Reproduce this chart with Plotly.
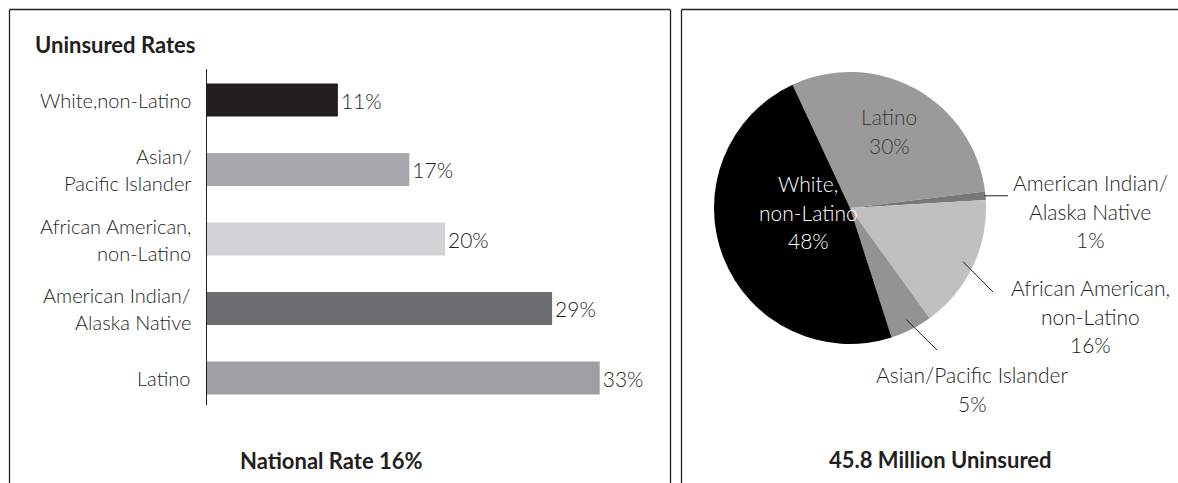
import math
import plotly.graph_objects as go

# ---------------- data ----------------
bar_categories = ["White,non-Latino", "Asian/<br>Pacific Islander", "African American,<br>non-Latino",
                  "American Indian/<br>Alaska Native", "Latino"]
bar_values = [11, 17, 20, 29, 33]
bar_colors = ["#231f20", "#a7a9ac", "#d1d3d4", "#6d6e71", "#9d9fa2"]

pie_labels = ["Latino", "American Indian/Alaska Native", "African American, non-Latino",
              "Asian/Pacific Islander", "White, non-Latino"]
pie_values = [30, 1, 16, 5, 48]
pie_colors = ["#9a9a9a", "#787878", "#c0c0c0", "#939393", "#000000"]
pie_text = [["Latino", "30%"], ["American Indian/", "Alaska Native", "1%"],
            ["African American,", "non-Latino", "16%"], ["Asian/Pacific Islander", "5%"],
            ["White,", "non-Latino", "48%"]]

left_title = "Uninsured Rates"
left_footer = "National Rate 16%"
right_footer = "45.8 Million Uninsured"

# ---------------- layout helpers ----------------
W, H = 1178, 483
FONT = "Lato"
INK = "#231f20"
LIGHT = 300


def px(x):
    return x / W


def py(y):
    return 1 - y / H


fig = go.Figure()

# ---------------- bar chart ----------------
fig.add_trace(go.Bar(
    x=bar_values, y=list(range(len(bar_categories))), orientation="h",
    marker=dict(color=bar_colors, line=dict(width=0)),
    width=0.475,
    text=[f"{v}%" for v in bar_values], textposition="outside",
    textfont=dict(family=FONT, size=21, color=INK, weight=LIGHT),
    cliponaxis=False, hoverinfo="skip", showlegend=False,
    xaxis="x", yaxis="y",
))

x0_px, x1_px = 207, 669
px_per_unit = 11.9
y_top_px, y_bot_px = 69, 405
fig.update_layout(
    xaxis=dict(domain=[px(x0_px), px(x1_px)], range=[0, (x1_px - x0_px) / px_per_unit],
               visible=False, fixedrange=True),
    yaxis=dict(domain=[py(y_bot_px), py(y_top_px)], range=[4.388, -0.446],
               showline=True, linecolor=INK, linewidth=1.3, showgrid=False,
               zeroline=False, showticklabels=False, ticks="", fixedrange=True),
)

annotations = []
LINE_H = 27
for i, lab in enumerate(bar_categories):
    lines = lab.split("<br>")
    n = len(lines)
    for j, ln in enumerate(lines):
        annotations.append(dict(
            x=px(193), xref="paper", y=i, yref="y", text=ln, showarrow=False,
            xanchor="right", yanchor="middle",
            yshift=-(j - (n - 1) / 2) * LINE_H,
            font=dict(family=FONT, size=20, color=INK, weight=LIGHT)))

# ---------------- pie chart ----------------
cx, cy, R = 850, 208, 136
rotation = -25
fig.add_trace(go.Pie(
    labels=pie_labels, values=pie_values, sort=False, direction="clockwise",
    rotation=rotation, marker=dict(colors=pie_colors, line=dict(width=0)),
    textinfo="none", hoverinfo="skip", showlegend=False,
    domain=dict(x=[px(cx - R), px(cx + R)], y=[py(cy + R), py(cy - R)]),
))

total = sum(pie_values)
mid_angles = []
acc = 0
for v in pie_values:
    mid_angles.append(rotation + (acc + v / 2) / total * 360)
    acc += v


def pie_point(angle_deg, r):
    a = math.radians(angle_deg)
    return cx + r * math.sin(a), cy - r * math.cos(a)


# label anchor (center of text block, in pixels) and colour
label_pos = {
    0: (889, 131, "#3d3d3d"),
    1: (1090, 211, INK),
    2: (1090, 316, INK),
    3: (972, 389, INK),
    4: (808, 212, "#ffffff"),
}
PIE_LINE_H = 28.5
for i, (lx, ly, col) in label_pos.items():
    lines = pie_text[i]
    n = len(lines)
    for j, ln in enumerate(lines):
        annotations.append(dict(
            x=px(lx), y=py(ly + (j - (n - 1) / 2) * PIE_LINE_H), xref="paper", yref="paper",
            text=ln, showarrow=False, xanchor="center", yanchor="middle",
            font=dict(family=FONT, size=21, color=col, weight=LIGHT)))

shapes = []
# leader lines: start on slice (from data), end near its label
leader_ends = {1: (1008, None), 2: (993, 292), 3: (937, 350)}
for i, (ex, ey) in leader_ends.items():
    if ey is None:
        sx, sy = pie_point(mid_angles[i], R * 0.99)
        ex_, ey_ = ex, sy
    else:
        sx, sy = pie_point(mid_angles[i], R * 0.92)
        ex_, ey_ = ex, ey
    shapes.append(dict(type="line", xref="paper", yref="paper",
                       x0=px(sx), y0=py(sy), x1=px(ex_), y1=py(ey_),
                       line=dict(color=INK, width=1)))

# ---------------- panel frames ----------------
frame = dict(color=INK, width=1.3)
for (l, r) in [(9.5, 670.5), (681.5, 1190)]:
    shapes.append(dict(type="line", xref="paper", yref="paper", x0=px(l), x1=px(r),
                       y0=py(9.5), y1=py(9.5), line=frame))
    shapes.append(dict(type="line", xref="paper", yref="paper", x0=px(l), x1=px(l),
                       y0=py(9.5), y1=py(490), line=frame))
    shapes.append(dict(type="line", xref="paper", yref="paper", x0=px(r), x1=px(r),
                       y0=py(9.5), y1=py(490), line=frame))

# ---------------- titles ----------------
annotations.append(dict(x=px(33), y=py(45), xref="paper", yref="paper", text=f"<b>{left_title}</b>",
                        showarrow=False, xanchor="left", yanchor="middle",
                        font=dict(family=FONT, size=22, color=INK)))
annotations.append(dict(x=px(331), y=py(460), xref="paper", yref="paper", text=f"<b>{left_footer}</b>",
                        showarrow=False, xanchor="center", yanchor="middle",
                        font=dict(family=FONT, size=22, color=INK)))
annotations.append(dict(x=px(940), y=py(459), xref="paper", yref="paper", text=f"<b>{right_footer}</b>",
                        showarrow=False, xanchor="center", yanchor="middle",
                        font=dict(family=FONT, size=22, color=INK)))

fig.update_layout(
    width=W, height=H, margin=dict(l=0, r=0, t=0, b=0),
    paper_bgcolor="white", plot_bgcolor="white",
    annotations=annotations, shapes=shapes, showlegend=False,
    font=dict(family=FONT, color=INK),
)

fig.write_html("out.html", config={"displayModeBar": False},
               post_script="document.body.style.margin='0px';")
